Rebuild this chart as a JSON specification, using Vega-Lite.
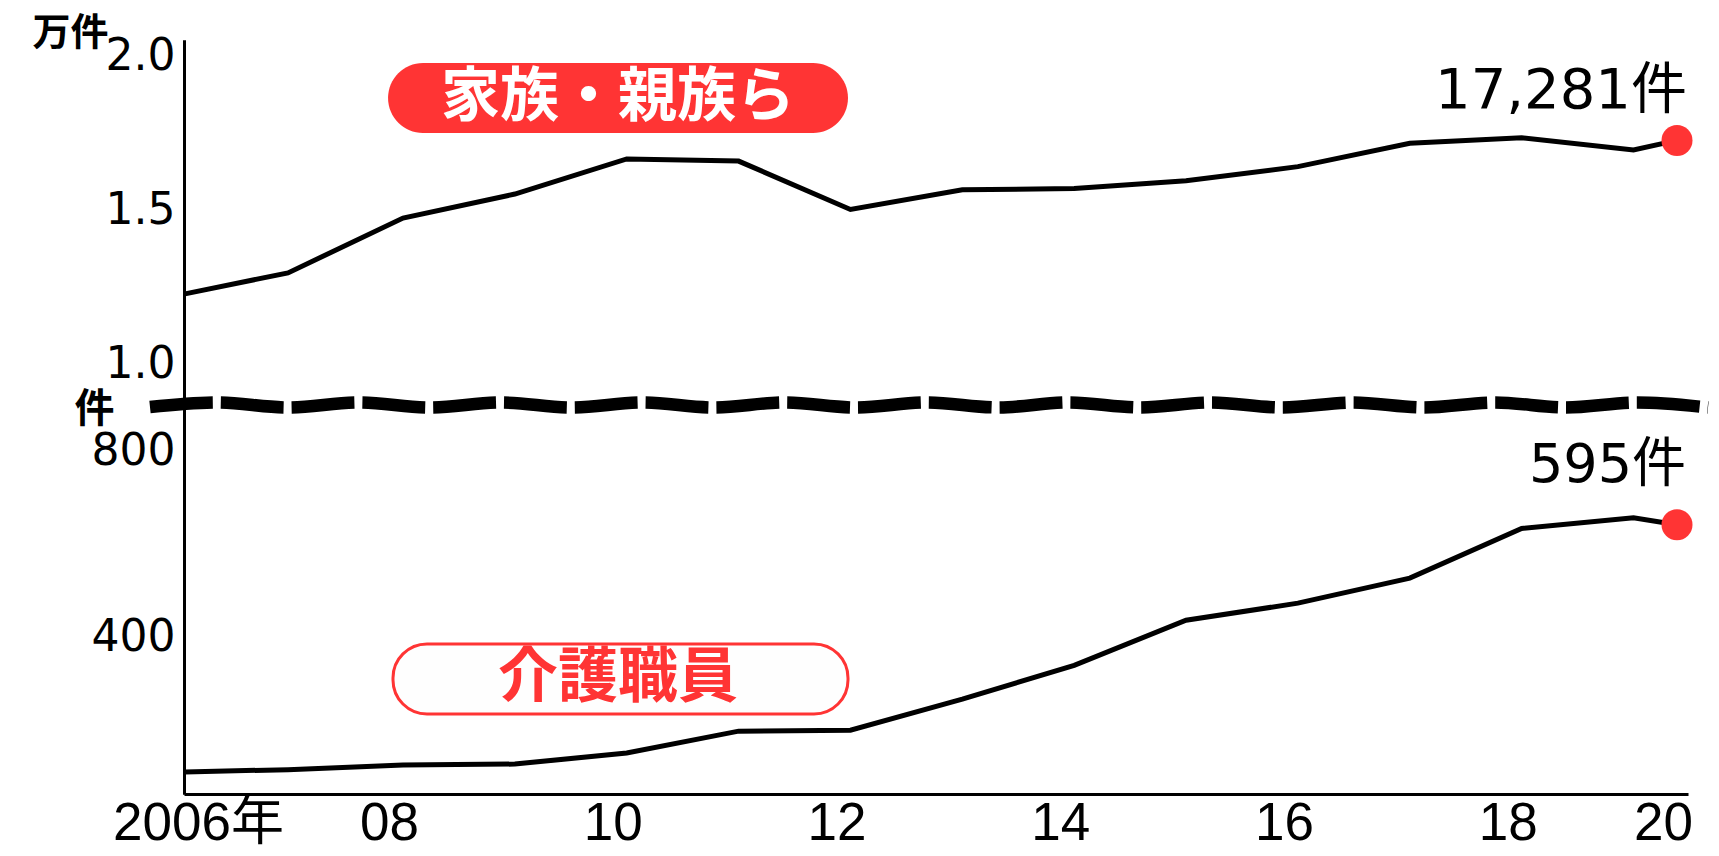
{
  "$schema": "https://vega.github.io/schema/vega-lite/v6.json",
  "width": 1504,
  "height": 754,
  "autosize": {"type": "none"},
  "padding": {"left": 184, "top": 40, "right": 31, "bottom": 62},
  "background": "white",
  "config": {"view": {"stroke": null}},
  "datasets": {
    "main": [
      {"year": 2006, "family": 12300, "staff": 110},
      {"year": 2007, "family": 12980, "staff": 115},
      {"year": 2008, "family": 14760, "staff": 125},
      {"year": 2009, "family": 15540, "staff": 127},
      {"year": 2010, "family": 16680, "staff": 151},
      {"year": 2011, "family": 16610, "staff": 198},
      {"year": 2012, "family": 15040, "staff": 200},
      {"year": 2013, "family": 15680, "staff": 267},
      {"year": 2014, "family": 15720, "staff": 340},
      {"year": 2015, "family": 15970, "staff": 437},
      {"year": 2016, "family": 16430, "staff": 474},
      {"year": 2017, "family": 17190, "staff": 528},
      {"year": 2018, "family": 17370, "staff": 635},
      {"year": 2019, "family": 16970, "staff": 658},
      {"year": 2020, "family": 17281, "staff": 643}
    ],
    "wave": [
      {"year": 2005.61, "v": 8610},
      {"year": 2006.311, "v": 8772},
      {"year": 2007.0, "v": 8610},
      {"year": 2007.617, "v": 8772},
      {"year": 2008.241, "v": 8610},
      {"year": 2008.876, "v": 8772},
      {"year": 2009.511, "v": 8610},
      {"year": 2010.145, "v": 8772},
      {"year": 2010.78, "v": 8610},
      {"year": 2011.415, "v": 8772},
      {"year": 2012.05, "v": 8610},
      {"year": 2012.684, "v": 8772},
      {"year": 2013.319, "v": 8610},
      {"year": 2013.954, "v": 8772},
      {"year": 2014.588, "v": 8610},
      {"year": 2015.223, "v": 8772},
      {"year": 2015.858, "v": 8610},
      {"year": 2016.493, "v": 8772},
      {"year": 2017.127, "v": 8610},
      {"year": 2017.762, "v": 8772},
      {"year": 2018.397, "v": 8610},
      {"year": 2019.08, "v": 8772},
      {"year": 2020.705, "v": 8610}
    ]
  },
  "data": {"name": "main"},
  "layer": [
    {
      "layer": [
        {
          "mark": {"type": "line", "color": "black", "strokeWidth": 5},
          "encoding": {
            "x": {
              "field": "year",
              "type": "quantitative",
              "scale": {
                "domain": [2005.99, 2006, 2007, 2008, 2019, 2020, 2020.25],
                "range": [0, 1, 104, 219, 1449.5, 1493, 1504],
                "nice": false,
                "zero": false
              },
              "axis": {
                "values": [2006, 2008, 2010, 2012, 2014, 2016, 2018, 2020],
                "labelExpr": "datum.value == 2006 ? '2006年' : format(datum.value % 100, '02d')",
                "labelFont": "Liberation Sans, Noto Sans CJK JP",
                "labelFontSize": 53,
                "labelColor": "black",
                "labelPadding": 3,
                "labelOffset": {"condition": {"test": "datum.value == 2006", "value": 13}, "value": -14},
                "ticks": false,
                "tickSize": 0,
                "domainColor": "black",
                "domainWidth": 3,
                "grid": false,
                "title": null,
                "labelOverlap": false,
                "labelBound": false,
                "labelFlush": false
              }
            },
            "y": {
              "field": "family",
              "type": "quantitative",
              "scale": {"domain": [-3940, 20542], "nice": false, "zero": false},
              "axis": {
                "orient": "left",
                "values": [10000, 15000, 20000],
                "labelExpr": "format(datum.value / 10000, '.1f')",
                "labelFont": "DejaVu Sans",
                "labelFontSize": 44,
                "labelColor": "black",
                "labelPadding": 9,
                "ticks": false,
                "tickSize": 0,
                "domainColor": "black",
                "domainWidth": 3,
                "grid": false,
                "title": "万件",
                "titleAngle": 0,
                "titleAlign": "left",
                "titleBaseline": "top",
                "titleX": -152,
                "titleY": -26,
                "titleFont": "Noto Sans CJK JP",
                "titleFontSize": 38,
                "titleFontWeight": "bold",
                "titleColor": "black",
                "labelOverlap": false,
                "labelBound": false,
                "labelFlush": false
              }
            }
          }
        },
        {
          "data": {"name": "wave"},
          "mark": {
            "type": "line",
            "color": "black",
            "strokeWidth": 12.5,
            "interpolate": "monotone",
            "strokeDash": [63, 8],
            "strokeDashOffset": 67,
            "strokeCap": "butt"
          },
          "encoding": {
            "x": {"field": "year", "type": "quantitative"},
            "y": {"field": "v", "type": "quantitative"}
          }
        },
        {
          "data": {"values": [{"label": "家族・親族ら"}]},
          "mark": {"type": "rect", "color": "#ff3434", "cornerRadius": 35},
          "encoding": {
            "x": {"datum": 2007.87},
            "x2": {"datum": 2011.978},
            "y": {"datum": 19795},
            "y2": {"datum": 17523}
          }
        },
        {
          "data": {"values": [{"label": "家族・親族ら"}]},
          "mark": {
            "type": "text",
            "color": "white",
            "font": "Noto Sans CJK JP",
            "fontWeight": "bold",
            "fontSize": 59,
            "align": "center",
            "baseline": "middle"
          },
          "encoding": {
            "x": {"datum": 2009.922},
            "y": {"datum": 18659},
            "text": {"field": "label"}
          }
        },
        {
          "transform": [{"filter": "datum.year == 2020"}],
          "mark": {"type": "point", "filled": true, "color": "#ff3434", "size": 961, "opacity": 1},
          "encoding": {
            "x": {"field": "year", "type": "quantitative"},
            "y": {"field": "family", "type": "quantitative"}
          }
        },
        {
          "transform": [{"filter": "datum.year == 2020"}],
          "mark": {
            "type": "text",
            "align": "right",
            "baseline": "alphabetic",
            "dx": 10,
            "dy": -32,
            "font": "DejaVu Sans, Noto Sans CJK JP",
            "fontSize": 56,
            "color": "black"
          },
          "encoding": {
            "x": {"field": "year", "type": "quantitative"},
            "y": {"field": "family", "type": "quantitative"},
            "text": {"value": "17,281件"}
          }
        }
      ]
    },
    {
      "layer": [
        {
          "mark": {"type": "line", "color": "black", "strokeWidth": 5},
          "encoding": {
            "x": {"field": "year", "type": "quantitative"},
            "y": {
              "field": "staff",
              "type": "quantitative",
              "scale": {"domain": [62.5, 1688], "nice": false, "zero": false},
              "axis": {
                "orient": "left",
                "values": [400, 800],
                "labelFont": "DejaVu Sans",
                "labelFontSize": 44,
                "labelColor": "black",
                "labelPadding": 9,
                "ticks": false,
                "tickSize": 0,
                "domainColor": "black",
                "domainWidth": 3,
                "grid": false,
                "title": "件",
                "titleAngle": 0,
                "titleAlign": "left",
                "titleBaseline": "top",
                "titleX": -110,
                "titleY": 349,
                "titleFont": "Noto Sans CJK JP",
                "titleFontSize": 40,
                "titleFontWeight": "bold",
                "titleColor": "black",
                "labelOverlap": false,
                "labelBound": false,
                "labelFlush": false
              }
            }
          }
        },
        {
          "data": {"values": [{"label": "介護職員"}]},
          "mark": {"type": "rect", "fill": "#fefefe", "stroke": "#ff3434", "strokeWidth": 3, "cornerRadius": 34},
          "encoding": {
            "x": {"datum": 2007.913},
            "x2": {"datum": 2011.978},
            "y": {"datum": 386},
            "y2": {"datum": 235}
          }
        },
        {
          "data": {"values": [{"label": "介護職員"}]},
          "mark": {
            "type": "text",
            "color": "#ff3434",
            "font": "Noto Sans CJK JP",
            "fontWeight": "bold",
            "fontSize": 60,
            "align": "center",
            "baseline": "middle"
          },
          "encoding": {
            "x": {"datum": 2009.922},
            "y": {"datum": 310.5},
            "text": {"field": "label"}
          }
        },
        {
          "transform": [{"filter": "datum.year == 2020"}],
          "mark": {"type": "point", "filled": true, "color": "#ff3434", "size": 961, "opacity": 1},
          "encoding": {
            "x": {"field": "year", "type": "quantitative"},
            "y": {"field": "staff", "type": "quantitative"}
          }
        },
        {
          "transform": [{"filter": "datum.year == 2020"}],
          "mark": {
            "type": "text",
            "align": "right",
            "baseline": "alphabetic",
            "dx": 9,
            "dy": -43,
            "font": "DejaVu Sans, Noto Sans CJK JP",
            "fontSize": 54,
            "color": "black"
          },
          "encoding": {
            "x": {"field": "year", "type": "quantitative"},
            "y": {"field": "staff", "type": "quantitative"},
            "text": {"value": "595件"}
          }
        }
      ]
    }
  ],
  "resolve": {"scale": {"y": "independent"}, "axis": {"y": "independent"}}
}
